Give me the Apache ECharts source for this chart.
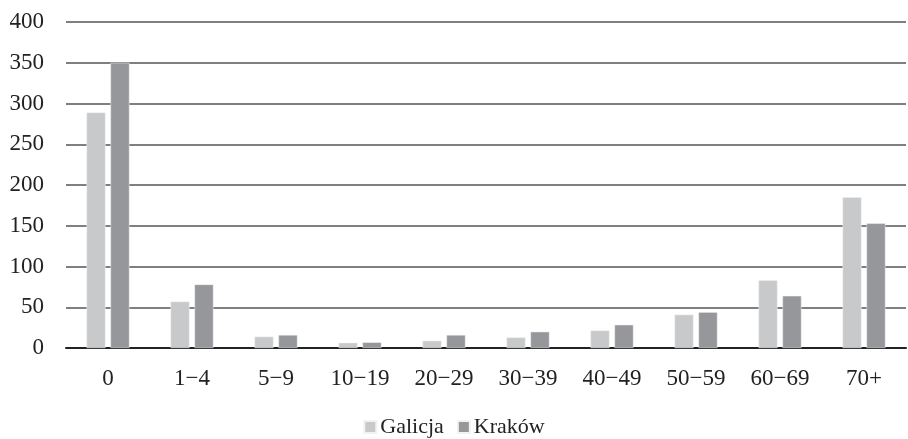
<!DOCTYPE html>
<html>
<head>
<meta charset="utf-8">
<script src="https://cdn.jsdelivr.net/npm/echarts@6/dist/echarts.min.js"></script>
<style>
  html, body { margin: 0; padding: 0; background: #fff; }
  #chart { width: 908px; height: 439px; }
</style>
</head>
<body>
<div id="chart"></div>
<script>
// Age groups
const categories = ['0', '1−4', '5−9', '10−19', '20−29', '30−39', '40−49', '50−59', '60−69', '70+'];
// Values per age group
const galicja = [289, 57, 14, 6.5, 9, 13, 21.5, 41, 83, 185];
const krakow = [350, 78, 16, 7, 16, 20, 28.5, 44, 64, 153];
const seriesNames = ['Galicja', 'Kraków'];

const chart = echarts.init(document.getElementById('chart'));
const font = '"Liberation Serif", "DejaVu Serif", serif';

chart.setOption({
  animation: false,
  backgroundColor: '#ffffff',
  textStyle: { fontFamily: font },
  grid: { left: 66, right: 2, top: 22, bottom: 91 },
  legend: {
    top: 416,
    left: 'center',
    padding: 0,
    itemWidth: 12,
    itemHeight: 12,
    itemGap: 13,
    icon: 'rect',
    textStyle: { fontFamily: font, fontSize: 22, color: '#222', padding: [0, 0, 0, -1] },
    data: seriesNames
  },
  xAxis: {
    type: 'category',
    data: categories,
    axisTick: { show: false },
    axisLine: { lineStyle: { color: '#222', width: 2 } },
    axisLabel: { fontFamily: font, fontSize: 23, color: '#222', margin: 19 }
  },
  yAxis: {
    type: 'value',
    min: 0,
    max: 400,
    interval: 50,
    axisLine: { show: false },
    axisTick: { show: false },
    axisLabel: { fontFamily: font, fontSize: 23, color: '#222', margin: 22 },
    splitLine: { lineStyle: { color: '#555', width: 1.5 } }
  },
  series: [
    {
      name: seriesNames[0],
      type: 'bar',
      data: galicja,
      barWidth: 19,
      barGap: '26%',
      itemStyle: { color: '#c8c9cb', borderColor: '#f2f2f2', borderWidth: 0.5 }
    },
    {
      name: seriesNames[1],
      type: 'bar',
      data: krakow,
      barWidth: 19,
      barGap: '26%',
      itemStyle: { color: '#96979b', borderColor: '#f2f2f2', borderWidth: 0.5 }
    }
  ]
});
</script>
</body>
</html>
